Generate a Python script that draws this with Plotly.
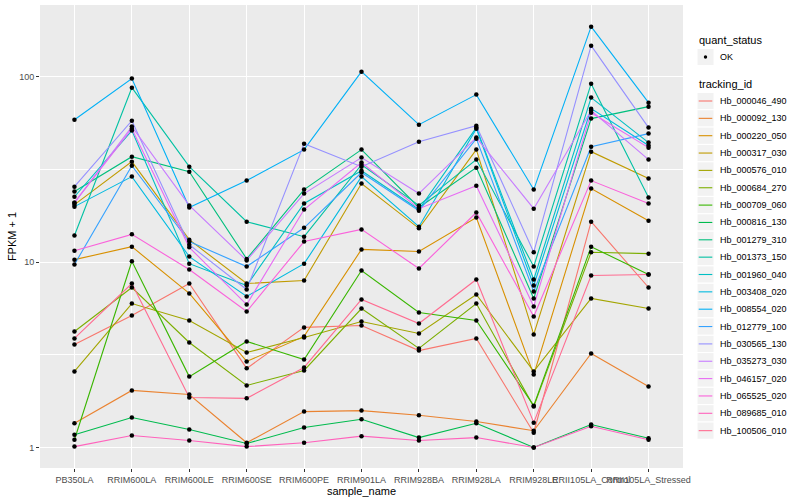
import plotly.graph_objects as go

samples = ["PB350LA", "RRIM600LA", "RRIM600LE", "RRIM600SE", "RRIM600PE",
           "RRIM901LA", "RRIM928BA", "RRIM928LA", "RRIM928LE",
           "RRII105LA_Control", "RRII105LA_Stressed"]

tracking_ids = ["Hb_000046_490", "Hb_000092_130", "Hb_000220_050", "Hb_000317_030",
                "Hb_000576_010", "Hb_000684_270", "Hb_000709_060", "Hb_000816_130",
                "Hb_001279_310", "Hb_001373_150", "Hb_001960_040", "Hb_003408_020",
                "Hb_008554_020", "Hb_012779_100", "Hb_030565_130", "Hb_035273_030",
                "Hb_046157_020", "Hb_065525_020", "Hb_089685_010", "Hb_100506_010"]

colors = ["#F8766D", "#EA8331", "#D89000", "#C09B00", "#A3A500", "#7CAE00", "#39B600",
          "#00BB4E", "#00BF7D", "#00C1A3", "#00BFC4", "#00BAE0", "#00B0F6", "#35A2FF",
          "#9590FF", "#C77CFF", "#E76BF3", "#FA62DB", "#FF62BC", "#FF6C91"]

# FPKM + 1 per sample (order of `samples`)
v_000046_490 = [3.59, 5.15, 7.66, 2.67, 4.44, 4.55, 3.33, 3.87, 1.20, 16.5, 7.29]
v_000092_130 = [1.35, 2.03, 1.93, 1.06, 1.56, 1.58, 1.49, 1.38, 1.23, 3.21, 2.13]
v_000220_050 = [10.3, 12.1, 6.77, 2.91, 3.97, 11.7, 11.4, 17.4, 2.47, 24.9, 16.7]
v_000317_030 = [20.4, 34.8, 13.2, 7.66, 7.95, 26.5, 15.2, 40.4, 4.07, 39.4, 28.2]
v_000576_010 = [2.57, 5.97, 4.84, 3.25, 3.92, 4.78, 4.12, 6.68, 2.57, 6.36, 5.61]
v_000684_270 = [4.22, 7.29, 3.68, 2.16, 2.60, 5.61, 3.42, 5.97, 1.66, 11.3, 11.1]
v_000709_060 = [1.10, 10.1, 2.41, 3.73, 2.98, 9.00, 5.34, 4.84, 1.68, 12.1, 8.56]
v_000816_130 = [1.17, 1.45, 1.25, 1.05, 1.28, 1.42, 1.13, 1.35, 1.00, 1.33, 1.12]
v_001279_310 = [24.0, 37.0, 30.7, 10.4, 24.6, 40.4, 19.7, 32.3, 6.36, 59.4, 68.9]
v_001373_150 = [13.9, 87.2, 32.7, 16.5, 13.7, 33.5, 20.2, 35.7, 9.46, 91.7, 22.3]
v_001960_040 = [22.5, 51.2, 9.80, 7.47, 20.7, 31.1, 19.2, 53.1, 8.05, 77.1, 44.1]
v_003408_020 = [19.9, 28.9, 10.7, 6.52, 9.80, 28.9, 15.5, 52.4, 7.47, 67.2, 42.5]
v_008554_020 = [58.6, 97.6, 19.7, 27.5, 40.4, 106.4, 55.1, 80.0, 24.6, 186.0, 72.4]
v_012779_100 = [9.70, 33.1, 12.9, 9.46, 15.3, 30.4, 18.9, 46.3, 6.93, 41.9, 49.3]
v_030565_130 = [25.5, 57.9, 12.4, 7.11, 43.5, 32.7, 44.6, 54.4, 11.3, 147.0, 53.1]
v_035273_030 = [20.9, 53.8, 20.2, 10.2, 23.4, 36.6, 23.4, 46.9, 19.4, 65.6, 35.7]
v_046157_020 = [20.9, 52.4, 12.0, 5.90, 19.2, 34.4, 19.4, 25.8, 5.76, 63.9, 41.4]
v_065525_020 = [11.5, 14.1, 9.11, 5.41, 12.9, 15.0, 9.23, 18.5, 5.08, 27.5, 20.7]
v_089685_010 = [1.01, 1.16, 1.09, 1.01, 1.06, 1.15, 1.09, 1.13, 1.00, 1.30, 1.10]
v_100506_010 = [3.87, 7.66, 1.86, 1.84, 2.70, 6.28, 4.66, 8.05, 1.36, 8.46, 8.56]

series = [v_000046_490, v_000092_130, v_000220_050, v_000317_030, v_000576_010,
          v_000684_270, v_000709_060, v_000816_130, v_001279_310, v_001373_150,
          v_001960_040, v_003408_020, v_008554_020, v_012779_100, v_030565_130,
          v_035273_030, v_046157_020, v_065525_020, v_089685_010, v_100506_010]

y_ticks = [1, 10, 100]
y_minor = [3.1623, 31.623]

FONT = "Liberation Sans, Arial, Helvetica, sans-serif"

fig = go.Figure()
for name, col, vals in zip(tracking_ids, colors, series):
    fig.add_trace(go.Scatter(x=samples, y=vals, mode="lines", name=name,
                             line=dict(color=col, width=1.1), showlegend=False))

all_x, all_y = [], []
for vals in series:
    all_x += samples
    all_y += vals
fig.add_trace(go.Scatter(x=all_x, y=all_y, mode="markers", name="OK",
                         marker=dict(color="black", size=4.5), showlegend=False))

# plot-area geometry in pixels (for the hand-built ggplot-style legend)
L, R, T, B = 40, 683, 5, 468
W, H = R - L, B - T


def px(x):
    return (x - L) / W


def py(y):
    return (B - y) / H


shapes, annotations = [], []
annotations.append(dict(x=px(697), y=py(40), xref="paper", yref="paper", text="quant_status",
                        showarrow=False, xanchor="left", yanchor="middle",
                        font=dict(size=11, color="black", family=FONT)))
shapes.append(dict(type="rect", xref="paper", yref="paper", x0=px(697), x1=px(714),
                   y0=py(65.5), y1=py(48.5), fillcolor="#F2F2F2", line=dict(color="white", width=1)))
shapes.append(dict(type="circle", xref="paper", yref="paper", x0=px(703.8), x1=px(707.2),
                   y0=py(58.7), y1=py(55.3), fillcolor="black", line=dict(color="black", width=0)))
annotations.append(dict(x=px(718), y=py(57), xref="paper", yref="paper", text="OK",
                        showarrow=False, xanchor="left", yanchor="middle",
                        font=dict(size=9, color="black", family=FONT)))
annotations.append(dict(x=px(697), y=py(84), xref="paper", yref="paper", text="tracking_id",
                        showarrow=False, xanchor="left", yanchor="middle",
                        font=dict(size=11, color="black", family=FONT)))
for i, (name, col) in enumerate(zip(tracking_ids, colors)):
    cy = 101 + i * 17.35
    shapes.append(dict(type="rect", xref="paper", yref="paper", x0=px(697), x1=px(714),
                       y0=py(cy + 8.6), y1=py(cy - 8.6), fillcolor="#F2F2F2",
                       line=dict(color="white", width=1)))
    shapes.append(dict(type="line", xref="paper", yref="paper", x0=px(698.7), x1=px(712.3),
                       y0=py(cy), y1=py(cy), line=dict(color=col, width=1.1)))
    annotations.append(dict(x=px(718), y=py(cy), xref="paper", yref="paper", text=name,
                            showarrow=False, xanchor="left", yanchor="middle",
                            font=dict(size=9, color="black", family=FONT)))

fig.update_layout(
    width=800, height=500,
    margin=dict(l=L, r=800 - R, t=T, b=500 - B, autoexpand=False),
    paper_bgcolor="white", plot_bgcolor="#EBEBEB",
    font=dict(family=FONT, size=9, color="#4D4D4D"),
    showlegend=False,
    shapes=shapes, annotations=annotations,
    xaxis=dict(type="category", range=[-0.6, 10.6], tickangle=0, automargin=False,
               showgrid=True, gridcolor="white", gridwidth=1.1, zeroline=False,
               ticks="outside", ticklen=3, tickwidth=1, tickcolor="#333333",
               tickfont=dict(size=9, color="#4D4D4D", family=FONT),
               title=dict(text="sample_name", standoff=0,
                          font=dict(size=11, color="black", family=FONT))),
    yaxis=dict(type="log", range=[-0.111, 2.3865], automargin=False,
               tickmode="array", tickvals=y_ticks, ticktext=[str(t) for t in y_ticks],
               showgrid=True, gridcolor="white", gridwidth=1.1, zeroline=False,
               ticks="outside", ticklen=3, tickwidth=1, tickcolor="#333333",
               tickfont=dict(size=9, color="#4D4D4D", family=FONT),
               minor=dict(tickmode="array", tickvals=y_minor, showgrid=True,
                          gridcolor="white", gridwidth=0.5, ticks=""),
               title=dict(text="FPKM + 1", standoff=0,
                          font=dict(size=11, color="black", family=FONT))),
)

fig.write_html("out.html", config={"displayModeBar": False},
               post_script="document.body.style.margin='0';document.body.style.padding='0';")
